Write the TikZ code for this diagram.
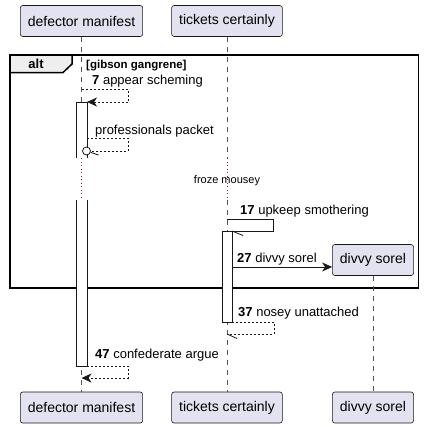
\documentclass[tikz,border=0pt]{standalone}
\usepackage{fontspec}
\setmainfont{Liberation Sans}
\usepackage{tikz}
\usetikzlibrary{arrows.meta}
\usetikzlibrary{positioning}
\definecolor{partfill}{HTML}{E2E2F0}
\definecolor{partline}{HTML}{181818}
\definecolor{tabfill}{HTML}{EEEEEE}
\definecolor{delaydot}{HTML}{8B1A4A}
\tikzset{part/.style = {draw=partline, fill=partfill, rounded corners=2.5, line width=0.6,
                        minimum height=31, inner xsep=7.5, font=\fontsize{14}{16}\selectfont}}
\tikzset{life/.style = {draw=gray!65!black, dash pattern=on 5 off 5, line width=0.6}}
\tikzset{delayline/.style = {draw=delaydot, dash pattern=on 1 off 2.5, line width=0.8}}
\tikzset{actbar/.style = {draw=partline, line width=0.8}}
\tikzset{msg/.style = {anchor=base west, inner sep=0, font=\fontsize{13}{15}\selectfont}}
\tikzset{msgline/.style = {draw=partline, line width=0.8}}
\tikzset{reply/.style = {msgline, dash pattern=on 2 off 2}}
\tikzset{msgtip/.style = {-{Stealth[length=10, width=9, inset=3]}}}

\begin{document}
\begin{tikzpicture}[x=1pt, y=-1pt]
    \useasboundingbox (0, 0) rectangle (428, 426);

    \node [part] (dmtop) at (81.5, 21) {defector manifest};
    \node [part] (tctop) at (227, 21) {tickets certainly};
    \node [part] (dmbot) at (81.5, 407.5) {defector manifest};
    \node [part] (tcbot) at (227, 407.5) {tickets certainly};
    \node [part] (dsbot) at (373, 407.5) {divvy sorel};

    \coordinate (dmwait) at (81.5, 158);
    \coordinate (dmgo) at (81.5, 200);
    \coordinate (tcwait) at (227, 158);
    \coordinate (tcgo) at (227, 200);
    \draw [life] (dmtop) -- (dmwait);
    \draw [delayline] (dmwait) -- (dmgo);
    \draw [life] (dmgo) -- (dmbot);
    \draw [life] (tctop) -- (tcwait);
    \draw [delayline] (tcwait) -- (tcgo);
    \draw [life] (tcgo) -- (tcbot);

    \draw [line width=1.5] (10, 55) rectangle (418.5, 288);
    \draw [fill=tabfill, line width=1.5] (10, 55) -- (72, 55) -- (72, 64) -- (63, 72.5) -- (10, 72.5) -- cycle;
    \node [font=\fontsize{13}{15}\selectfont\bfseries] (alttag) at (36, 63.5) {alt};
    \node [anchor=base west, inner sep=0, font=\fontsize{11.5}{13}\selectfont\bfseries] (guard) at (86, 68) {[gibson gangrene]};

    \node [part] (dsnew) at (373, 260) {divvy sorel};
    \draw [life] (dsnew) -- (dsbot);

    \node [msg] (l7) at (92, 84) {\textbf{7} appear scheming};
    \coordinate (m7s) at (81.5, 89);
    \coordinate (m7e) at (87, 102);
    \draw [reply, msgtip] (m7s) -- ++(46.5, 0) |- (m7e);

    \fill [white] (76, 102) rectangle (87, 158);
    \draw [actbar] (76, 158) -- (76, 102) -- (87, 102) -- (87, 158);
    \fill [white] (76, 200) rectangle (87, 366);
    \draw [actbar] (76, 200) -- (76, 366) -- (87, 366) -- (87, 200);

    \node [msg] (lpp) at (95, 134.5) {professionals packet};
    \coordinate (mpps) at (87, 138);
    \node [draw=partline, fill=white, line width=0.8, circle, inner sep=0, minimum size=8] (mppo) at (86.5, 151) {};
    \draw [reply] (mpps) -- ++(41, 0) |- (mppo);
    \draw [msgline] (mppo) -- ++(12, 4);

    \node [font=\fontsize{11}{13}\selectfont] (froze) at (227, 181) {froze mousey};

    \node [msg] (l17) at (240, 214.5) {\textbf{17} upkeep smothering};
    \coordinate (m17s) at (227, 219);
    \coordinate (m17e) at (232, 231);
    \draw [msgline] (m17s) -- ++(46, 0) |- (m17e);
    \fill [white] (222, 231) rectangle (232, 322);
    \draw [actbar] (222, 231) rectangle (232, 322);
    \draw [msgline] (m17e) -- ++(11, 4.5);

    \node [msg] (l27) at (237, 262.5) {\textbf{27} divvy sorel};
    \coordinate (m27s) at (232, 267);
    \draw [msgline, msgtip] (m27s) -- (m27s -| dsnew.west);

    \node [msg] (l37) at (238, 316.5) {\textbf{37} nosey unattached};
    \coordinate (m37s) at (232, 322);
    \coordinate (m37e) at (227, 334);
    \draw [reply] (m37s) -- ++(42, 0) |- (m37e);
    \draw [msgline] (m37e) -- ++(10, 4.5);

    \node [msg] (l47) at (95, 358.5) {\textbf{47} confederate argue};
    \coordinate (m47s) at (87, 366);
    \coordinate (m47e) at (81.5, 378);
    \draw [reply, msgtip] (m47s) -- ++(41, 0) |- (m47e);
  \end{tikzpicture}
\end{document}
